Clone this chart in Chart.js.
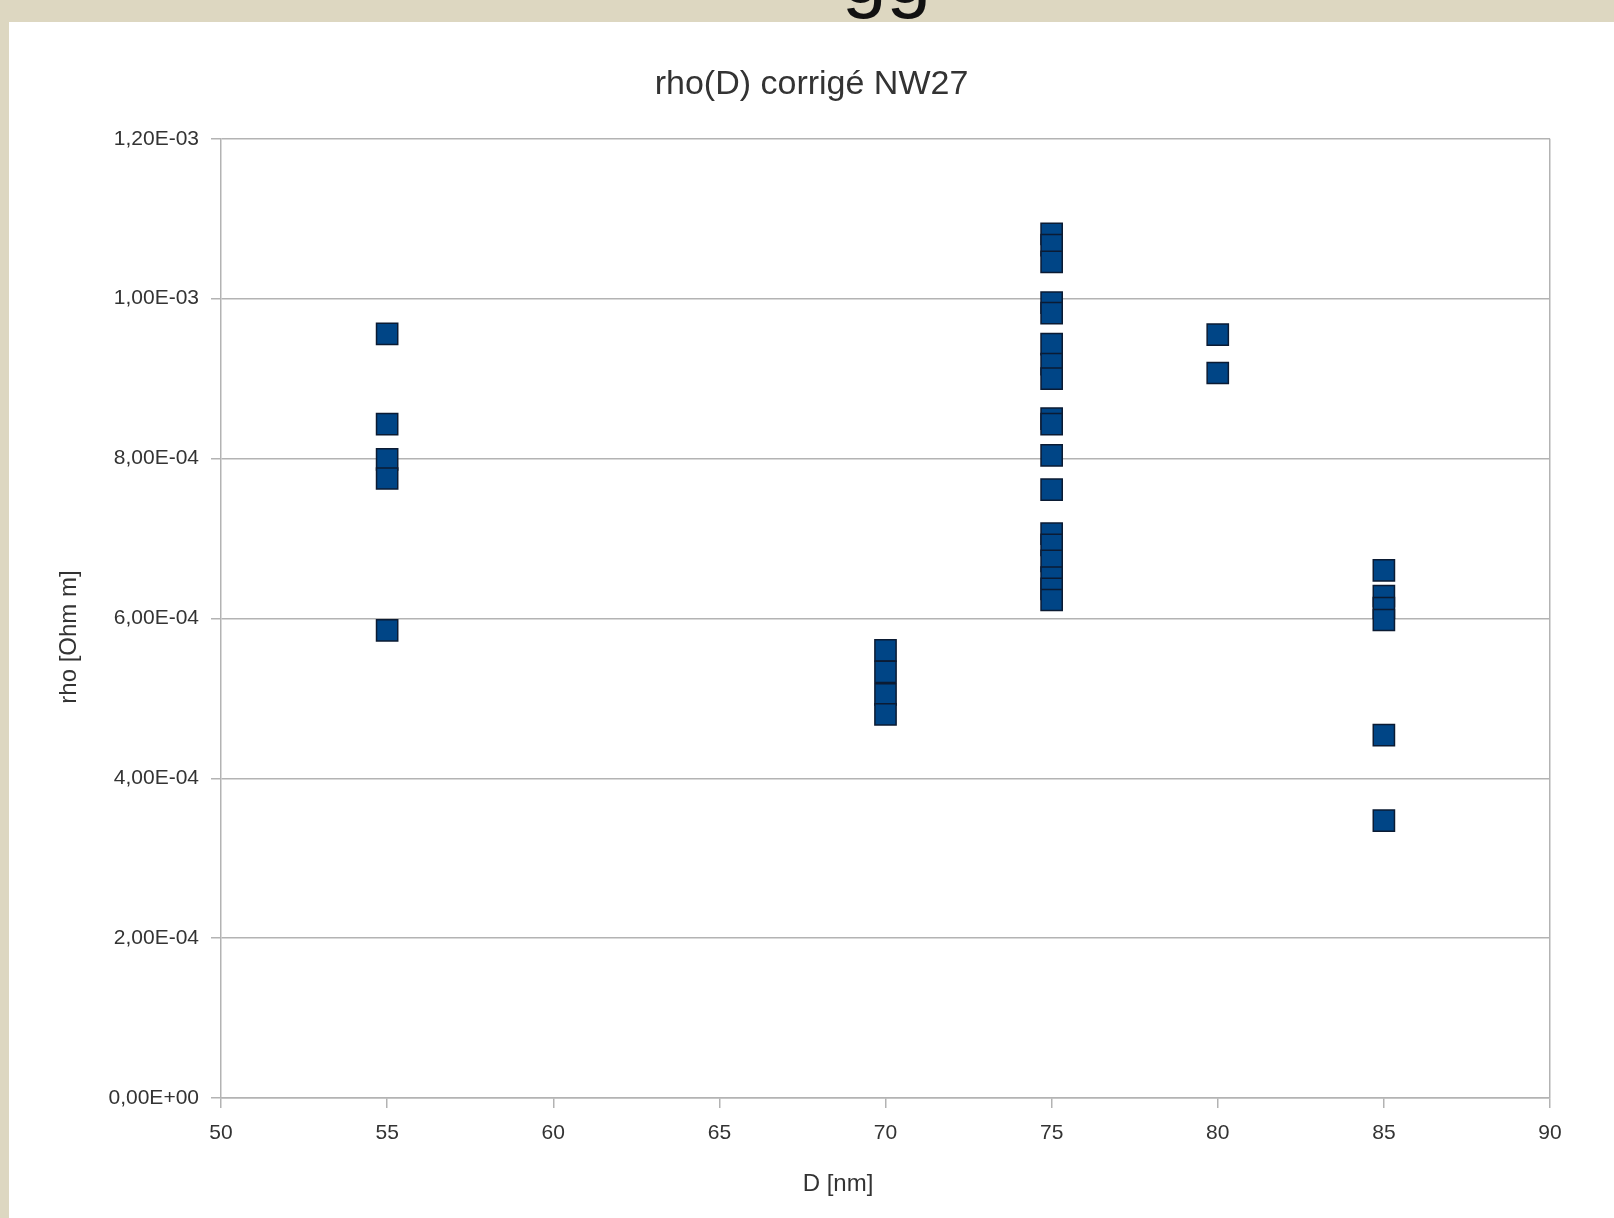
<!DOCTYPE html>
<html>
<head>
<meta charset="utf-8">
<script src="https://cdn.jsdelivr.net/npm/chart.js@4.4.0/dist/chart.umd.min.js"></script>
<style>
  html, body { margin: 0; padding: 0; background: #ddd7c1; overflow: hidden; }
  #haut { position: absolute; left: 842px; top: -65px; font: 80px "Liberation Sans", Arial, sans-serif; line-height: 1; color: #111; z-index: 0; }
  #cadre { position: absolute; left: 9px; top: 22px; width: 1605px; height: 1196px; background: #fff; z-index: 1; }
</style>
</head>
<body>
<div id="haut">gg</div>
<div id="cadre"><canvas id="graphe" width="1605" height="1196"></canvas></div>
<script>
// Valeurs : rho [Ohm m] pour chaque diametre D [nm]
const diametres = [55, 70, 75, 80, 85];
const rho55 = [9.56e-4, 8.43e-4, 7.99e-4, 7.75e-4, 5.85e-4];
const rho70 = [5.60e-4, 5.33e-4, 5.05e-4, 4.80e-4];
const rho75 = [1.081e-3, 1.067e-3, 1.046e-3, 9.95e-4, 9.82e-4, 9.43e-4, 9.18e-4, 9.00e-4,
               8.50e-4, 8.43e-4, 8.04e-4, 7.61e-4,
               7.06e-4, 6.92e-4, 6.72e-4, 6.51e-4, 6.37e-4, 6.23e-4];
const rho80 = [9.55e-4, 9.07e-4];
const rho85 = [6.60e-4, 6.28e-4, 6.13e-4, 5.98e-4, 4.54e-4, 3.47e-4];
const ticksY = [0, 2e-4, 4e-4, 6e-4, 8e-4, 1e-3, 1.2e-3];

const series = [rho55, rho70, rho75, rho80, rho85];
const points = [];
series.forEach((vals, i) => {
  vals.forEach(v => points.push({ x: diametres[i], y: v }));
});

// format type tableur : 1,20E-03
function formatSci(v) {
  let s = Number(v).toExponential(2);
  let [m, e] = s.split('e');
  let sign = e[0] === '-' ? '-' : '+';
  let n = Math.abs(parseInt(e, 10));
  return m.replace('.', ',') + 'E' + sign + (n < 10 ? '0' + n : n);
}

const gris = '#b3b3b3';
const police = '"Liberation Sans", Arial, sans-serif';

// titres des axes, placés comme dans le tableur (pas centrés sur la zone de tracé)
const titresAxes = {
  id: 'titresAxes',
  afterDraw(chart) {
    const c = chart.ctx;
    c.save();
    c.font = '24px ' + police;
    c.fillStyle = '#333';
    c.textAlign = 'center';
    c.textBaseline = 'middle';
    c.fillText('D [nm]', 829, 1162);
    c.translate(60, 615);
    c.rotate(-Math.PI / 2);
    c.fillText('rho [Ohm m]', 0, 0);
    c.restore();
  }
};

const ctx = document.getElementById('graphe').getContext('2d');
new Chart(ctx, {
  type: 'scatter',
  data: {
    datasets: [{
      label: 'rho',
      data: points,
      pointStyle: 'rect',
      pointRadius: 15,
      pointHoverRadius: 15,
      backgroundColor: '#004586',
      borderColor: '#0b1b33',
      borderWidth: 1.5
    }]
  },
  plugins: [titresAxes],
  options: {
    responsive: false,
    animation: false,
    layout: { padding: 0 },
    plugins: {
      legend: { display: false },
      tooltip: { enabled: false },
      title: {
        display: true,
        text: 'rho(D) corrigé NW27',
        color: '#333',
        font: { family: police, size: 34, weight: 'normal' },
        padding: { top: 42, bottom: 34 }
      }
    },
    scales: {
      x: {
        type: 'linear',
        min: 50,
        max: 90,
        afterFit: s => { s.height = 120; },
        ticks: { stepSize: 5, color: '#333', font: { family: police, size: 21 }, padding: 13 },
        grid: {
          color: c => (c.tick && (c.tick.value === 90)) ? gris : 'rgba(0,0,0,0)',
          tickColor: gris,
          tickLength: 10,
          lineWidth: 1.5
        },
        border: { color: gris, width: 1.5 }
      },
      y: {
        min: 0,
        max: 1.2e-3,
        afterFit: s => { s.width = 212; },
        afterBuildTicks: s => { s.ticks = ticksY.map(v => ({ value: v })); },
        ticks: { color: '#333', font: { family: police, size: 21 }, padding: 12, callback: v => formatSci(v) },
        grid: { color: gris, tickColor: gris, tickLength: 10, lineWidth: 1.5 },
        border: { color: gris, width: 1.5 }
      },
      marge: {
        type: 'linear',
        position: 'right',
        afterFit: s => { s.width = 64; },
        ticks: { display: false },
        grid: { display: false },
        border: { display: false }
      }
    }
  }
});
</script>
</body>
</html>
